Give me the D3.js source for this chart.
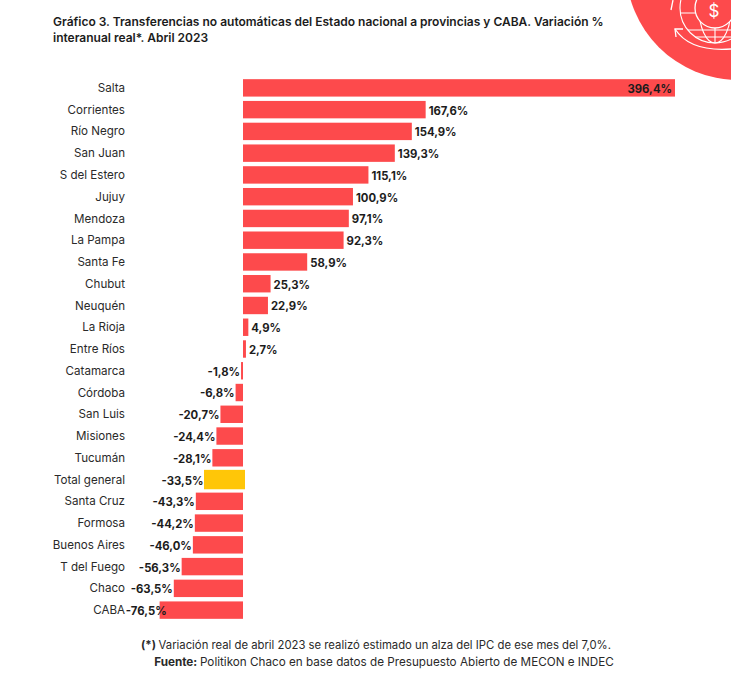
<!DOCTYPE html>
<html>
<head>
<meta charset="utf-8">
<script src="https://d3js.org/d3.v7.min.js"></script>
<style>
  html, body { margin: 0; padding: 0; background: #fff; }
  svg { display: block; font-family: "Inter", sans-serif; }
</style>
</head>
<body>
<svg id="chart" width="731" height="696"></svg>
<script>
var provinces = ["Salta","Corrientes","Río Negro","San Juan","S del Estero","Jujuy","Mendoza","La Pampa","Santa Fe","Chubut","Neuquén","La Rioja","Entre Ríos","Catamarca","Córdoba","San Luis","Misiones","Tucumán","Total general","Santa Cruz","Formosa","Buenos Aires","T del Fuego","Chaco","CABA"];
var variation = [396.4,167.6,154.9,139.3,115.1,100.9,97.1,92.3,58.9,25.3,22.9,4.9,2.7,-1.8,-6.8,-20.7,-24.4,-28.1,-33.5,-43.3,-44.2,-46.0,-56.3,-63.5,-76.5];
var titleLines = ["Gráfico 3. Transferencias no automáticas del Estado nacional a provincias y CABA. Variación %","interanual real*. Abril 2023"];

var RED = "#fd4a4c", YELLOW = "#ffc608", INK = "#1c1c1c";
var svg = d3.select("#chart");

// scales
var x = d3.scaleLinear().domain([0, 396.4]).range([243, 675]);
var y = d3.scaleBand().domain(provinces).range([77, 621]).paddingInner(0.2).paddingOuter(0.1);

function fmt(v) {
  return (v < 0 ? "-" : "") + Math.abs(v).toFixed(1).replace(".", ",") + "%";
}

// corner badge
var badge = svg.append("g");
badge.append("circle").attr("cx", 738).attr("cy", -32).attr("r", 112).attr("fill", RED);
var globe = badge.append("g").attr("fill", "none").attr("stroke", "#fff").attr("stroke-width", 1.1);
globe.append("circle").attr("cx", 715).attr("cy", 8).attr("r", 35);
globe.append("ellipse").attr("cx", 715).attr("cy", 8).attr("rx", 16).attr("ry", 35);
[-2, 13, 30, 37].forEach(function(d) {
  var half = Math.sqrt(35 * 35 - (d - 8) * (d - 8));
  globe.append("line").attr("x1", 715 - half).attr("x2", 715 + half).attr("y1", d).attr("y2", d);
});
globe.append("line").attr("x1", 715).attr("x2", 715).attr("y1", 27).attr("y2", 43);
globe.append("circle").attr("cx", 715).attr("cy", 8).attr("r", 20).attr("fill", RED).attr("stroke-width", 1.3);
globe.append("path").attr("stroke-width", 1.3).attr("d", "M675,29 Q690,52 731,49");
globe.append("path").attr("stroke-width", 1.3).attr("d", "M676,37 L675,29 L683,29");
globe.append("path").attr("stroke-width", 1.3).attr("d", "M673,0 L671,10");
badge.append("text").attr("x", 714).attr("y", 16.5).attr("text-anchor", "middle")
  .attr("font-size", 17).attr("fill", "#fff").text("$");

// title
svg.append("g").selectAll("text").data(titleLines).join("text")
  .attr("x", 53).attr("y", function(d, i) { return 26 + i * 16; })
  .attr("font-size", 12).attr("font-weight", 600).attr("fill", INK)
  .text(function(d) { return d; });

// bars
svg.append("g").selectAll("rect").data(provinces).join("rect")
  .attr("x", function(d, i) {
    return d == "Total general" ? x(variation[i]) - 2.5 : Math.min(x(0), x(variation[i]));
  })
  .attr("y", function(d) { return d == "Total general" ? y(d) - 1 : y(d); })
  .attr("width", function(d, i) {
    var w = Math.abs(x(variation[i]) - x(0));
    return d == "Total general" ? w + 4.5 : w;
  })
  .attr("height", function(d) { return d == "Total general" ? y.bandwidth() + 2 : y.bandwidth(); })
  .attr("fill", function(d) { return d == "Total general" ? YELLOW : RED; });

// province labels
svg.append("g").selectAll("text").data(provinces).join("text")
  .attr("x", 125).attr("y", function(d) { return y(d) + y.bandwidth() / 2; })
  .attr("dy", "0.35em").attr("text-anchor", "end")
  .attr("font-size", 11.6).attr("fill", "#2a2a2a")
  .text(function(d) { return d; });

// value labels
svg.append("g").selectAll("text").data(variation).join("text")
  .attr("x", function(d, i) {
    if (i == 0) return x(d) - 3;
    if (provinces[i] == "Total general") return x(d) - 3;
    if (d < 0) return provinces[i] == "CABA" ? x(d) + 7 : x(d) - 1;
    return x(d) + 3;
  })
  .attr("y", function(d, i) { return y(provinces[i]) + y.bandwidth() / 2 + 1; })
  .attr("dy", "0.35em")
  .attr("text-anchor", function(d, i) { return (d < 0 || i == 0) ? "end" : "start"; })
  .attr("font-size", 11.3).attr("font-weight", 700).attr("fill", INK)
  .text(fmt);

// notes
var note1 = svg.append("text").attr("x", 376).attr("y", 649).attr("text-anchor", "middle")
  .attr("font-size", 11.3).attr("fill", "#2a2a2a");
note1.append("tspan").attr("font-weight", 700).text("(*) ");
note1.append("tspan").text("Variación real de abril 2023 se realizó estimado un alza del IPC de ese mes del 7,0%.");
var note2 = svg.append("text").attr("x", 384).attr("y", 666).attr("text-anchor", "middle")
  .attr("font-size", 11.7).attr("fill", "#2a2a2a");
note2.append("tspan").attr("font-weight", 700).text("Fuente: ");
note2.append("tspan").text("Politikon Chaco en base datos de Presupuesto Abierto de MECON e INDEC");
</script>
</body>
</html>
